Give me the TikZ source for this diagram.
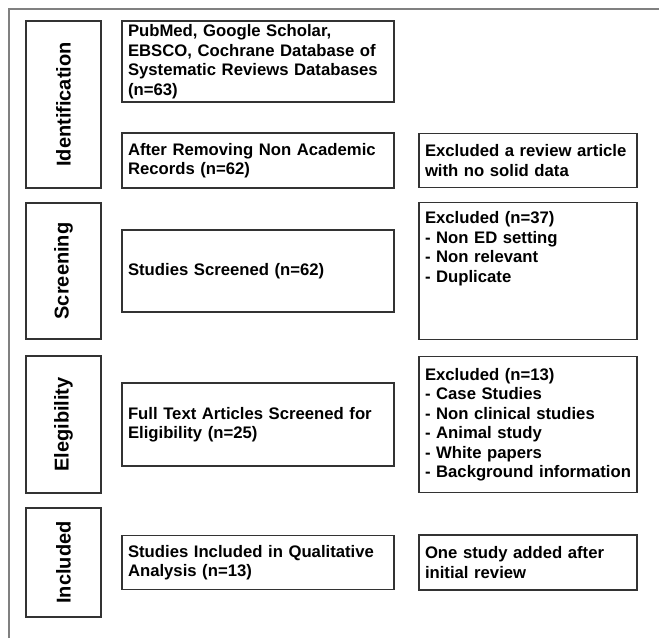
\documentclass[tikz,border=0pt]{standalone}
\usepackage{fontspec}
\setmainfont{Liberation Sans}
\usetikzlibrary{positioning}
\tikzstyle{stage} = [
    rectangle,
    minimum height = 75pt,
    text centered,
    draw = black!80,
    line width = 1.2pt,
    font = \bfseries\fontsize{20}{24}\selectfont
]
\tikzstyle{record} = [
    rectangle,
    text width = 260pt,
    inner xsep = 6pt,
    inner ysep = 3pt,
    align = left,
    draw = black!80,
    line width = 1.2pt,
    font = \bfseries\fontsize{16.7}{19.5}\selectfont
]
\tikzstyle{excluded} = [
    record,
    text width = 206pt
]
\tikzstyle{frame} = [line width = 2pt, draw = black!50]

\begin{document}
\begin{tikzpicture}[node distance = 150pt]
    \useasboundingbox (0pt, 0pt) rectangle (659pt, -638pt);
    \draw [frame] (9pt, -638pt) -- (9pt, -9pt) -- (659pt, -9pt);

    % stages on the left
    \node
        (identification)
        [stage, minimum width = 167pt, rotate = 90]
        at (63.5pt, -104.5pt)
        {Identification};

    \node
        (screening)
        [stage, below of = identification, yshift = -16.5pt,
         minimum width = 136pt, rotate = 90]
        {Screening};

    \node
        (eligibility)
        [stage, below of = screening, yshift = -3.5pt,
         minimum width = 137pt, rotate = 90]
        {Elegibility};

    \node
        (included)
        [stage, below of = eligibility, yshift = 12pt,
         minimum width = 109pt, rotate = 90]
        {Included};

    % identification
    \node
        (databases)
        [record, right of = identification, xshift = 44.5pt, yshift = 43pt,
         minimum height = 81pt]
        {PubMed, Google Scholar,\\
         EBSCO, Cochrane Database of\\
         Systematic Reviews Databases\\
         (n=63)};

    \node
        (non academic)
        [record, below of = databases, yshift = 51pt, minimum height = 55pt]
        {After Removing Non Academic\\ Records (n=62)};

    \node
        (review article)
        [excluded, right of = non academic, xshift = 120pt, minimum height = 54pt]
        {Excluded a review article\\ with no solid data};

    % screening
    \node
        (screened)
        [record, right of = screening, xshift = 44.5pt, minimum height = 82pt]
        {Studies Screened (n=62)};

    \node
        (excluded screening)
        [excluded, right of = screened, xshift = 120pt,
         text height = 18pt, text depth = 113pt]
        {Excluded (n=37)\\
         - Non ED setting\\
         - Non relevant\\
         - Duplicate};

    % eligibility
    \node
        (full text)
        [record, right of = eligibility, xshift = 44.5pt, minimum height = 83pt]
        {Full Text Articles Screened for\\ Eligibility (n=25)};

    \node
        (excluded eligibility)
        [excluded, right of = full text, xshift = 120pt, minimum height = 136pt]
        {Excluded (n=13)\\
         - Case Studies\\
         - Non clinical studies\\
         - Animal study\\
         - White papers\\
         - Background information};

    % included
    \node
        (qualitative)
        [record, right of = included, xshift = 44.5pt, minimum height = 54pt]
        {Studies Included in Qualitative\\ Analysis (n=13)};

    \node
        (added study)
        [excluded, right of = qualitative, xshift = 120pt, minimum height = 55pt]
        {One study added after\\ initial review};
\end{tikzpicture}
\end{document}
